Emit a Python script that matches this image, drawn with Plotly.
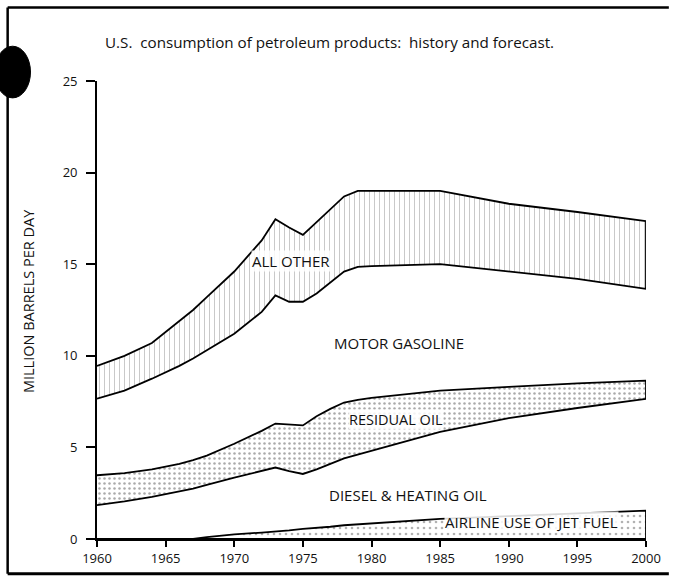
import numpy as np
import plotly.graph_objects as go

# ---- data (million barrels per day) ----
years = [1960, 1962, 1964, 1966, 1967, 1968, 1970, 1972, 1973, 1974, 1975,
         1976, 1977, 1978, 1979, 1980, 1985, 1990, 1995, 2000]
jet_fuel = [0, 0, 0, 0, 0, 0.10, 0.25, 0.35, 0.40, 0.47, 0.55,
            0.60, 0.67, 0.75, 0.80, 0.85, 1.10, 1.25, 1.40, 1.55]
diesel_heating = [1.85, 2.05, 2.30, 2.60, 2.75, 2.85, 3.10, 3.37, 3.50, 3.23, 3.00,
                  3.20, 3.43, 3.65, 3.80, 3.95, 4.75, 5.35, 5.75, 6.10]
residual_oil = [1.63, 1.55, 1.50, 1.50, 1.55, 1.60, 1.85, 2.18, 2.40, 2.55, 2.65,
                2.90, 3.00, 3.05, 3.00, 2.90, 2.25, 1.70, 1.35, 1.00]
motor_gasoline = [4.18, 4.50, 4.95, 5.35, 5.55, 5.75, 6.00, 6.50, 7.00, 6.70, 6.75,
                  6.70, 6.90, 7.15, 7.25, 7.20, 6.90, 6.30, 5.70, 5.00]
all_other = [1.79, 1.90, 1.95, 2.45, 2.65, 2.90, 3.40, 3.90, 4.15, 4.05, 3.65,
             3.90, 4.00, 4.10, 4.15, 4.10, 4.00, 3.70, 3.65, 3.70]

x_ticks = [1960, 1965, 1970, 1975, 1980, 1985, 1990, 1995, 2000]
y_ticks = [0, 5, 10, 15, 20, 25]

title_text = "U.S.  consumption of petroleum products:  history and forecast."
y_title = "MILLION BARRELS PER DAY"
band_labels = ["ALL OTHER", "MOTOR GASOLINE", "RESIDUAL OIL",
               "DIESEL & HEATING OIL", "AIRLINE USE OF JET FUEL"]

# ---- cumulative boundaries ----
yr = np.array(years, dtype=float)
c_jet = np.array(jet_fuel)
c_diesel = c_jet + np.array(diesel_heating)
c_resid = c_diesel + np.array(residual_oil)
c_gas = c_resid + np.array(motor_gasoline)
c_total = c_gas + np.array(all_other)

W, H = 673, 579
L, R, T, B = 97, 23, 81, 37
PW, PH = W - L - R, H - T - B


def px(x):
    return (x - L) / PW


def py(y):
    return (H - B - y) / PH


def band(lower, upper, pattern):
    xs = list(yr) + list(yr[::-1])
    ys = list(upper) + list(lower[::-1])
    return go.Scatter(x=xs, y=ys, mode="lines", fill="toself",
                      fillcolor="white",
                      fillpattern=pattern,
                      line=dict(color="black", width=1.8),
                      hoverinfo="skip", showlegend=False)


fig = go.Figure()
fig.add_trace(band(np.zeros_like(c_jet), c_jet,
                   dict(shape=".", fgcolor="#666", bgcolor="white", size=6, solidity=0.15)))
fig.add_trace(band(c_diesel, c_resid,
                   dict(shape=".", fgcolor="#555", bgcolor="white", size=5, solidity=0.2)))
fig.add_trace(band(c_gas, c_total,
                   dict(shape="|", fgcolor="#777", bgcolor="white", size=5, solidity=0.16)))

FONT = "Open Sans"
ann = []
ann.append(dict(text=title_text, xref="paper", yref="paper", x=px(103), y=py(42),
                xanchor="left", yanchor="middle", showarrow=False,
                font=dict(family=FONT, size=15.2, color="#111")))
ann.append(dict(text=y_title, xref="paper", yref="paper", x=px(28), y=py(302),
                textangle=-90, showarrow=False, xanchor="center", yanchor="middle",
                font=dict(family=FONT, size=14.5, color="#111")))
label_pos = [(292, 262), (401, 345), (398, 422), (410, 498), (535, 525)]
label_size = [15, 15, 14.5, 15, 15]
for t, (lx, ly), s in zip(band_labels, label_pos, label_size):
    ann.append(dict(text=t, xref="paper", yref="paper", x=px(lx), y=py(ly),
                    showarrow=False, xanchor="center", yanchor="middle",
                    bgcolor="rgba(255,255,255,0.85)", borderpad=0,
                    font=dict(family=FONT, size=s, color="#111")))

shapes = [
    dict(type="line", xref="paper", yref="paper", x0=px(7), x1=px(673), y0=py(7), y1=py(7),
         line=dict(color="black", width=2.5)),
    dict(type="line", xref="paper", yref="paper", x0=px(7), x1=px(7), y0=py(7), y1=py(577),
         line=dict(color="black", width=2.5)),
    dict(type="line", xref="paper", yref="paper", x0=px(7), x1=px(673), y0=py(577), y1=py(577),
         line=dict(color="black", width=3)),
    dict(type="circle", xref="paper", yref="paper", x0=px(-6), x1=px(30), y0=py(46), y1=py(98),
         fillcolor="black", line=dict(color="black", width=1)),
]

fig.update_layout(
    width=W, height=H,
    margin=dict(l=L, r=R, t=T, b=B),
    paper_bgcolor="white", plot_bgcolor="white",
    font=dict(family=FONT, size=12, color="#111"),
    annotations=ann, shapes=shapes, showlegend=False,
    xaxis=dict(range=[1960, 2000], tickvals=x_ticks, ticktext=[str(v) for v in x_ticks],
               ticks="outside", ticklen=6, tickwidth=1.5, tickcolor="black",
               showline=True, linecolor="black", linewidth=1.8,
               showgrid=False, zeroline=False, fixedrange=True,
               tickfont=dict(family=FONT, size=13)),
    yaxis=dict(range=[0, 25], tickvals=y_ticks,
               ticks="outside", ticklen=9, tickwidth=1.5, tickcolor="black",
               showline=True, linecolor="black", linewidth=1.8,
               showgrid=False, zeroline=False, fixedrange=True,
               ticklabelstandoff=6,
               tickfont=dict(family=FONT, size=13)),
)

fig.write_html("out.html", config={"displayModeBar": False},
               post_script="document.body.style.margin='0';document.body.style.overflow='hidden';")
